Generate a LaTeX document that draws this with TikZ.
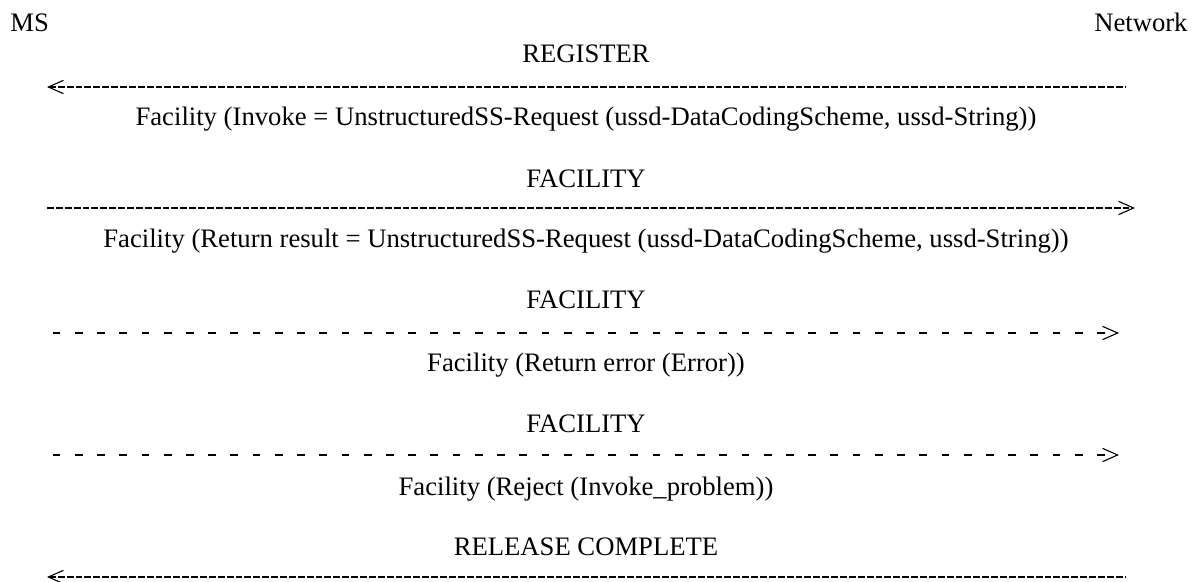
\documentclass[tikz,border=0pt]{standalone}
\usepackage{fontspec}
\setmainfont{Liberation Serif}
\usetikzlibrary{arrows.meta}

\begin{document}
\begin{tikzpicture}[x=0.45pt, y=-0.45pt,
        >={Straight Barb[length=6.8pt, width=6pt, line width=0.5pt]},
        txt/.style={anchor=base, inner sep=0pt, font=\fontsize{12}{14}\selectfont},
        hyph/.style={line width=0.9pt, dash pattern=on 3.1pt off 0.9pt},
        spaced/.style={line width=0.9pt, dash pattern=on 3.47pt off 6.53pt}]
    \useasboundingbox (0,0) rectangle (1201,582);

    % end points
    \node[txt, anchor=base west] (ms) at (10,32) {MS};
    \node[txt, anchor=base east] (net) at (1188,32) {Network};

    % REGISTER
    \node[txt] (register) at (586,63) {REGISTER};
    \coordinate (reg w) at (47,87);
    \coordinate (reg e) at (1125,87);
    \draw[hyph, <-] (reg w) -- (reg e);
    \node[txt] (invoke) at (586,125) {Facility (Invoke = UnstructuredSS-Request (ussd-DataCodingScheme, ussd-String))};

    % FACILITY (result)
    \node[txt] (fac1) at (586,187) {FACILITY};
    \coordinate (fac1 w) at (47,208);
    \coordinate (fac1 e) at (1135,208);
    \draw[hyph, ->] (fac1 w) -- (fac1 e);
    \node[txt] (result) at (586,247) {Facility (Return result = UnstructuredSS-Request (ussd-DataCodingScheme, ussd-String))};

    % FACILITY (error)
    \node[txt] (fac2) at (586,308) {FACILITY};
    \coordinate (fac2 w) at (52.7,333);
    \coordinate (fac2 e) at (1119,333);
    \draw[spaced, ->] (fac2 w) -- (fac2 e);
    \node[txt] (error) at (586,371) {Facility (Return error (Error))};

    % FACILITY (reject)
    \node[txt] (fac3) at (586,432) {FACILITY};
    \coordinate (fac3 w) at (52.7,455);
    \coordinate (fac3 e) at (1119,455);
    \draw[spaced, ->] (fac3 w) -- (fac3 e);
    \node[txt] (reject) at (586,495) {Facility (Reject (Invoke\_problem))};

    % RELEASE COMPLETE
    \node[txt] (release) at (586,555) {RELEASE COMPLETE};
    \coordinate (rel w) at (47,577);
    \coordinate (rel e) at (1125,577);
    \draw[hyph, <-] (rel w) -- (rel e);
\end{tikzpicture}
\end{document}
